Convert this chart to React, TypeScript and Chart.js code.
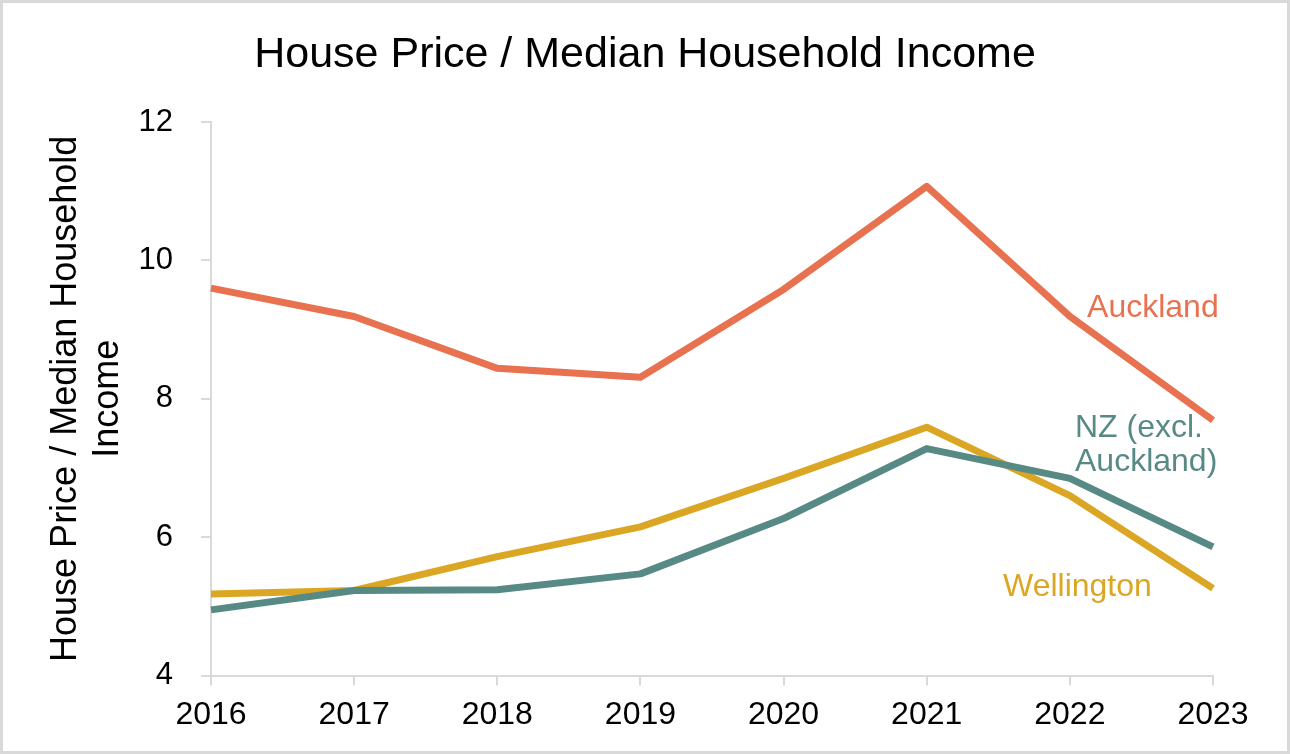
import React, { useEffect, useRef } from "react";
import { Chart, registerables } from "chart.js";

Chart.register(...registerables);

const years = ["2016", "2017", "2018", "2019", "2020", "2021", "2022", "2023"];
const auckland = [9.6, 9.19, 8.44, 8.31, 9.58, 11.07, 9.19, 7.69];
const nzExclAuckland = [4.95, 5.23, 5.24, 5.47, 6.27, 7.28, 6.85, 5.86];
const wellington = [5.18, 5.23, 5.72, 6.15, 6.85, 7.59, 6.6, 5.26];

const TITLE = "House Price / Median Household Income";
const Y_TITLE = ["House Price / Median Household", "Income"];

const COLORS = { auckland: "#E8714F", nz: "#588A85", wellington: "#DBA623" };
const FONT = "'Liberation Sans', Arial, sans-serif";

// series labels: text lines, anchored at (category index, value), left aligned
const seriesLabels = [
  { lines: ["Auckland"], x: 6.12, y: 9.31, color: COLORS.auckland },
  { lines: ["NZ (excl.", "Auckland)"], x: 6.036, y: 7.573, color: COLORS.nz },
  { lines: ["Wellington"], x: 5.533, y: 5.273, color: COLORS.wellington },
];

const framePlugin = {
  id: "frame",
  beforeDraw(chart: any) {
    const { ctx, width, height } = chart;
    ctx.save();
    ctx.fillStyle = "#ffffff";
    ctx.fillRect(0, 0, width, height);
    ctx.strokeStyle = "#d9d9d9";
    ctx.lineWidth = 3;
    ctx.strokeRect(1.5, 1.5, width - 3, height - 3);
    ctx.fillStyle = "#000000";
    ctx.font = `43px ${FONT}`;
    ctx.textAlign = "center";
    ctx.textBaseline = "alphabetic";
    ctx.fillText(TITLE, width / 2, 67);
    ctx.restore();
  },
};

const labelPlugin = {
  id: "seriesLabels",
  afterDatasetsDraw(chart: any) {
    const { ctx, scales } = chart;
    ctx.save();
    ctx.font = `32px ${FONT}`;
    ctx.textBaseline = "middle";
    ctx.textAlign = "left";
    seriesLabels.forEach((l) => {
      const px = scales.x.getPixelForValue(l.x);
      const py = scales.y.getPixelForValue(l.y);
      ctx.fillStyle = l.color;
      l.lines.forEach((t, i) => ctx.fillText(t, px, py + i * 34));
    });
    ctx.restore();
  },
};

export default function App() {
  const ref = useRef<HTMLCanvasElement>(null);
  useEffect(() => {
    document.body.style.margin = "0";
    const ds = (label: string, data: number[], color: string) => ({
      label,
      data,
      borderColor: color,
      backgroundColor: color,
      borderWidth: 7,
      pointRadius: 0,
      tension: 0,
      borderJoinStyle: "round" as CanvasLineJoin,
    });
    const chart = new Chart(ref.current!, {
      type: "line",
      data: {
        labels: years,
        datasets: [
          ds("Auckland", auckland, COLORS.auckland),
          ds("NZ (excl. Auckland)", nzExclAuckland, COLORS.nz),
          ds("Wellington", wellington, COLORS.wellington),
        ],
      },
      options: {
        responsive: false,
        animation: false,
        layout: { padding: { left: 0, right: 77, top: 122, bottom: 10 } },
        plugins: {
          legend: { display: false },
          tooltip: { enabled: false },
          title: { display: false },
        },
        scales: {
          x: {
            offset: false,
            grid: { drawOnChartArea: false, drawTicks: true, tickLength: 10, color: "#d9d9d9", lineWidth: 2 },
            border: { color: "#d9d9d9", width: 2 },
            ticks: { color: "#000000", font: { family: FONT, size: 32 }, padding: 10, maxRotation: 0, autoSkip: false },
          },
          y: {
            min: 4,
            max: 12,
            afterFit: (scale: any) => {
              scale.width = 211;
            },
            grid: { drawOnChartArea: false, drawTicks: true, tickLength: 10, color: "#d9d9d9", lineWidth: 2 },
            border: { color: "#d9d9d9", width: 2 },
            ticks: { stepSize: 2, color: "#000000", font: { family: FONT, size: 31 }, padding: 28 },
            title: {
              display: true,
              text: Y_TITLE,
              color: "#000000",
              font: { family: FONT, size: 36, lineHeight: 1.167 },
              padding: { top: 45, bottom: 0 },
            },
          },
        },
      },
      plugins: [framePlugin, labelPlugin],
    });
    return () => chart.destroy();
  }, []);
  return (
    <div style={{ position: "fixed", left: 0, top: 0, width: 1290, height: 754 }}>
      <canvas ref={ref} width={1290} height={754} style={{ width: 1290, height: 754, display: "block" }} />
    </div>
  );
}
